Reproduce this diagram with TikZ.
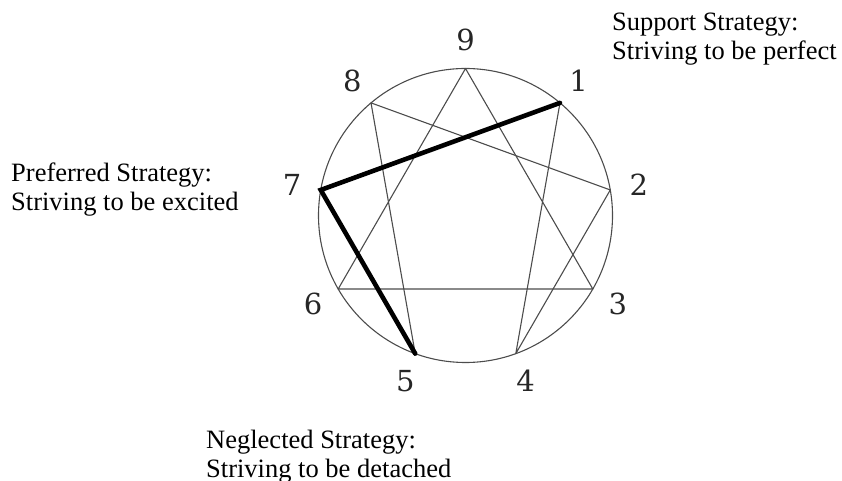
\documentclass[tikz,border=0pt]{standalone}
\usepackage{fontspec}
\setmainfont{Liberation Serif}
\newfontfamily\numfont{DejaVu Serif}
\usetikzlibrary{calc}
\tikzset{
  thinline/.style={line width=1.1pt,draw=black!70},
  boldline/.style={line width=4.6pt,line cap=round,line join=miter},
  numlabel/.style={font=\numfont\fontsize{29}{29}\selectfont,text=black!85,inner sep=0pt},
  strategy/.style={font=\fontsize{26.5}{29}\selectfont,align=left,inner sep=0pt,anchor=north west}
}
\begin{document}
\begin{tikzpicture}[line cap=round,line join=round,x=1pt,y=1pt]
			\useasboundingbox (0,0) rectangle (842,481);
			\coordinate (c) at (465.5,265.5);
			% points of the figure, 9 on top, clockwise
			\foreach \k in {1,...,9}{
				\coordinate (p\k) at ($(c)+({90-40*\k}:147)$);
				\node[numlabel] (n\k) at ($(c)+({90-40*\k}:176)$) {\k};
			}
			\draw [thinline] (c) circle (147);
			\draw [thinline] (p9)-- (p3)-- (p6)-- cycle;
			\draw [thinline] (p1)-- (p4)-- (p2)-- (p8)-- (p5)-- (p7)-- cycle;
			\draw [boldline] (p1)-- (p7)-- (p5);
			\node[strategy] (sup) at (612,468) {Support Strategy:\\Striving to be perfect};
			\node[strategy] (pre) at (11,318) {Preferred Strategy:\\Striving to be excited};
			\node[strategy] (neg) at (206,51) {Neglected Strategy:\\Striving to be detached};
\end{tikzpicture}
\end{document}
